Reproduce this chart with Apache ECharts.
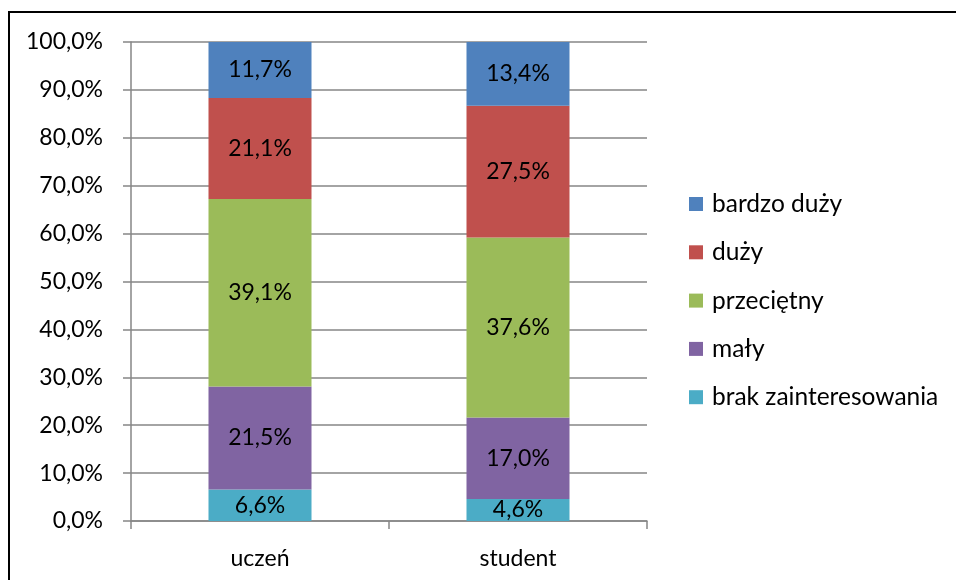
<!DOCTYPE html>
<html><head><meta charset="utf-8">
<script src="https://cdn.jsdelivr.net/npm/echarts@6/dist/echarts.min.js"></script>
<style>html,body{margin:0;padding:0;background:#fff}#c{width:956px;height:580px}</style>
</head><body><div id="c"></div>
<script>
const categories = ['uczeń', 'student'];
const seriesNames = ['brak zainteresowania', 'mały', 'przeciętny', 'duży', 'bardzo duży'];
const brak = [6.6, 4.6];
const maly = [21.5, 17.0];
const przecietny = [39.1, 37.6];
const duzy = [21.1, 27.5];
const bardzoDuzy = [11.7, 13.4];
const colors = ['#4BACC6', '#8064A2', '#9BBB59', '#C0504D', '#4F81BD'];
const yTicks = [0, 10, 20, 30, 40, 50, 60, 70, 80, 90, 100];

const valuesList = [brak, maly, przecietny, duzy, bardzoDuzy];
const FONT = 'Lato';
const fmt = v => v.toFixed(1).replace('.', ',') + '%';

const chart = echarts.init(document.getElementById('c'));
chart.setOption({
  animation: false,
  textStyle: { fontFamily: FONT },
  grid: { left: 131, right: 309, top: 42, bottom: 59 },
  graphic: [
    { type: 'line', shape: { x1: 8, y1: 12, x2: 956, y2: 12 }, style: { stroke: '#000', lineWidth: 2 } },
    { type: 'line', shape: { x1: 9, y1: 12, x2: 9, y2: 580 }, style: { stroke: '#000', lineWidth: 2 } }
  ],
  legend: {
    orient: 'vertical', left: 689, top: 190, padding: 0,
    itemWidth: 14, itemHeight: 14, itemGap: 20.3, icon: 'rect',
    data: seriesNames.slice().reverse(),
    textStyle: { fontFamily: FONT, fontSize: 24.5, color: '#000', lineHeight: 28, padding: [0, 0, 0, 4] }
  },
  xAxis: {
    type: 'category', data: categories,
    axisLine: { lineStyle: { color: '#868686', width: 1.5 } },
    axisTick: { show: true, length: 8, lineStyle: { color: '#868686', width: 1.5 } },
    axisLabel: { color: '#000', fontSize: 23, fontFamily: FONT, margin: 26 }
  },
  yAxis: {
    type: 'value', min: 0, max: 100, interval: 10,
    axisLine: { show: true, lineStyle: { color: '#868686', width: 1.5 } },
    axisTick: { show: true, length: 8, lineStyle: { color: '#868686', width: 1.5 } },
    splitLine: { lineStyle: { color: '#868686', width: 1.5 } },
    axisLabel: { color: '#000', fontSize: 23, fontFamily: FONT, margin: 28,
      formatter: v => yTicks.includes(v) ? fmt(v) : '' }
  },
  series: seriesNames.map((name, i) => ({
    name, type: 'bar', stack: 'total', barWidth: 103,
    itemStyle: { color: colors[i] },
    label: { show: true, position: 'inside', color: '#000', fontSize: 23, fontFamily: FONT,
      formatter: p => fmt(p.value) },
    data: valuesList[i]
  }))
});
</script></body></html>
